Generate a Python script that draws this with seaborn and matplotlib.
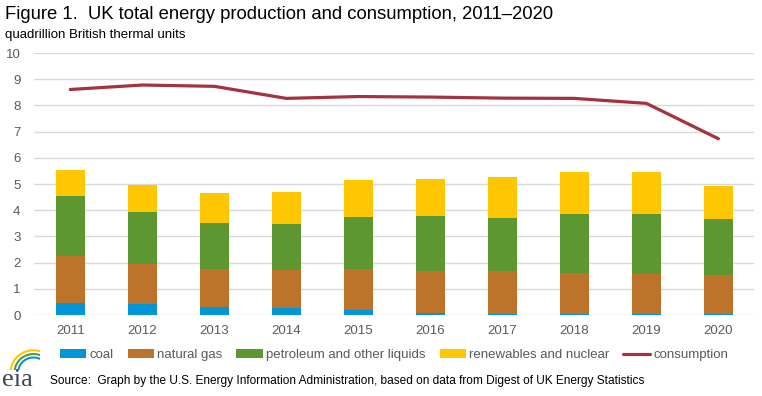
import numpy as np
import pandas as pd
import matplotlib
matplotlib.use('Agg')
import matplotlib.pyplot as plt
import seaborn as sns
from matplotlib.patches import Patch, Arc
from matplotlib.lines import Line2D

sns.set_style('white')
plt.rcParams['font.family'] = ['Liberation Sans', 'DejaVu Sans']

years = ['2011', '2012', '2013', '2014', '2015', '2016', '2017', '2018', '2019', '2020']
coal = [0.46, 0.43, 0.31, 0.28, 0.20, 0.09, 0.05, 0.05, 0.05, 0.05]
natural_gas = [1.80, 1.52, 1.45, 1.45, 1.56, 1.59, 1.63, 1.55, 1.52, 1.48]
petroleum = [2.29, 1.99, 1.76, 1.75, 1.99, 2.11, 2.03, 2.26, 2.29, 2.14]
renewables = [0.98, 1.03, 1.15, 1.23, 1.42, 1.40, 1.56, 1.60, 1.60, 1.25]
consumption = [8.61, 8.78, 8.73, 8.27, 8.34, 8.32, 8.28, 8.27, 8.08, 6.73]

series_names = ['coal', 'natural gas', 'petroleum and other liquids', 'renewables and nuclear']
series_colors = ['#0096D7', '#BD732A', '#5D9732', '#FFC702']
line_color = '#A33340'
gray = '#595959'

stack = np.cumsum(np.array([coal, natural_gas, petroleum, renewables]), axis=0)
df = pd.DataFrame({'year': years, 'consumption': consumption})

fig = plt.figure(figsize=(7.62, 3.96), dpi=100)
ax = fig.add_axes([0.045, 0.2045, 0.945, 0.6615])

# draw cumulative totals from top down so each layer shows its own segment
for i in range(len(series_names) - 1, -1, -1):
    sns.barplot(x=years, y=stack[i], color=series_colors[i], width=0.4,
                saturation=1, linewidth=0, ax=ax, zorder=2)

sns.lineplot(data=df, x='year', y='consumption', color=line_color,
             linewidth=2.3, ax=ax, zorder=3, sort=False)

ax.set_ylim(0, 10)
ax.set_xlim(-0.5, len(years) - 0.5)
ax.set_yticks(range(0, 11))
ax.yaxis.grid(True, color='#D9D9D9', linewidth=1)
ax.set_axisbelow(True)
ax.set_xlabel('')
ax.set_ylabel('')
sns.despine(ax=ax, top=True, right=True, left=True, bottom=True)
ax.tick_params(axis='both', labelsize=9.5, colors=gray, length=0)
ax.tick_params(axis='y', pad=10)
ax.tick_params(axis='x', pad=7)

fig.text(0.007, 0.963, 'Figure 1.  UK total energy production and consumption, 2011\u20132020',
         fontsize=13.3, color='#000000', va='center', ha='left')
fig.text(0.007, 0.912, 'quadrillion British thermal units',
         fontsize=9.5, color='#000000', va='center', ha='left')

handles = [Patch(facecolor=c, edgecolor='none', label=n) for c, n in zip(series_colors, series_names)]
handles.append(Line2D([0], [0], color=line_color, linewidth=2.3, label='consumption'))
fig.legend(handles=handles, loc='center', bbox_to_anchor=(0.517, 0.103), ncol=5,
           frameon=False, fontsize=9.5, handlelength=2.0, handleheight=0.6,
           handletextpad=0.25, columnspacing=1.05, labelcolor=gray)

fig.text(0.066, 0.037, 'Source:  Graph by the U.S. Energy Information Administration, based on data from Digest of UK Energy Statistics',
         fontsize=8.6, color='#000000', va='center', ha='left')

# small eia logo: serif letters with three swoosh arcs
fig.text(0.002, 0.04, 'eia', fontsize=19, family='Liberation Serif', color='#3F4752',
         va='center', ha='left')
logo = fig.add_axes([0.012, 0.066, 0.04, 0.052])
logo.set_xlim(0, 1)
logo.set_ylim(0, 1)
logo.axis('off')
for r, c in zip([0.75, 0.62, 0.5], ['#FFC702', '#5D9732', '#0096D7']):
    logo.add_patch(Arc((0.8, -0.1), 2 * r, 2 * r * 1.4, theta1=35, theta2=175,
                       color=c, linewidth=1.5))

fig.savefig('out.png', dpi=100)
